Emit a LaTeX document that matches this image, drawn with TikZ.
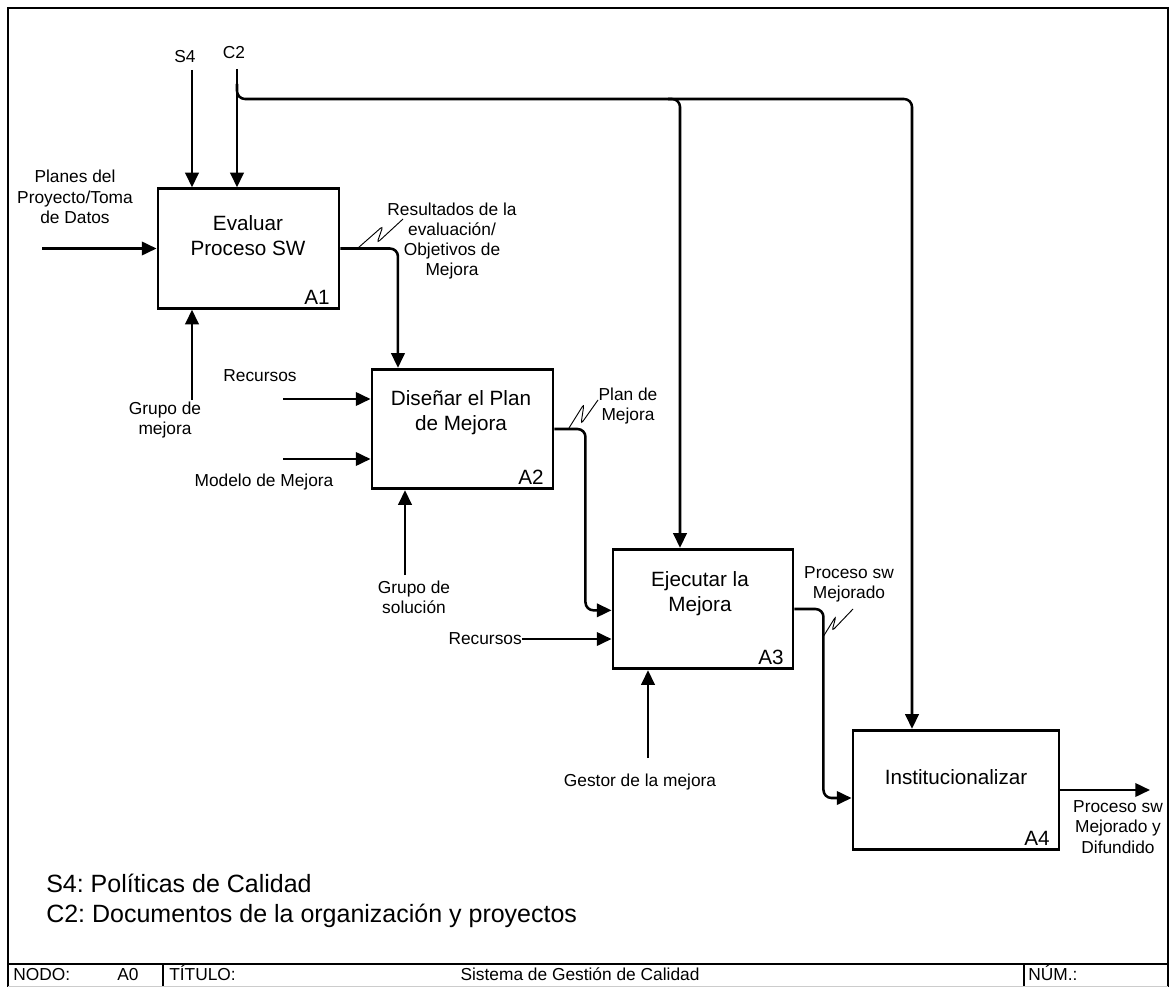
\documentclass[tikz,border=0pt]{standalone}
\usepackage{fontspec}
\setmainfont{Liberation Sans}
\usetikzlibrary{arrows.meta}
\newcommand\lblfont{\fontsize{13}{15.2}\selectfont}
\newcommand\ttlfont{\fontsize{15.5}{18.75}\selectfont}
\newcommand\legfont{\fontsize{18.75}{24.75}\selectfont}
\frenchspacing
\begin{document}
\begin{tikzpicture}[x=0.75pt,y=-0.75pt,
  box/.style={draw,line width=2.2pt,inner sep=0pt,minimum height=89.5pt,minimum width=#1},
  arr/.style={line width=1.9pt,rounded corners=6pt,-{Triangle[length=11pt,width=10pt]}},
  squig/.style={line width=0.7pt,rounded corners=2.5pt},
  lbl/.style={font=\lblfont,align=center,inner sep=0pt},
  ttl/.style={font=\ttlfont,align=center,inner sep=0pt},
  num/.style={font=\ttlfont,inner sep=0pt,anchor=south east},
  leg/.style={font=\legfont,inner sep=0pt,anchor=west},
  foot/.style={font=\lblfont,inner sep=0pt}]
\useasboundingbox (0,0) rectangle (1169,987);

% sheet frame and title strip
\draw[line width=1.5pt] (8,987) -- (8,8) -- (1168,8) -- (1168,987);
\draw[line width=2pt] (8,964) -- (1168,964);
\draw[line width=1.5pt] (163,964) -- (163,987);
\draw[line width=1.5pt] (1024,964) -- (1024,987);
\draw[line width=0.6pt,gray!40] (8,986) -- (1168,986);
\node[foot,anchor=base west] (fnodo) at (13,980.5) {NODO:};
\node[foot,anchor=base] (fa0) at (128,980.5) {A0};
\node[foot,anchor=base west] (ftit) at (169,980.5) {TÍTULO:};
\node[foot,anchor=base] (fsis) at (580,980.5) {Sistema de Gestión de Calidad};
\node[foot,anchor=base west] (fnum) at (1028,980.5) {NÚM.:};

% activity boxes
\node[box=135.75pt] (A1) at (248.5,248.5) {};
\node[box=135.75pt] (A2) at (462.5,429) {};
\node[box=135pt]    (A3) at (703,609) {};
\node[box=154.5pt]  (A4) at (956,790) {};

\node[ttl] (t1) at (248,236) {Evaluar\\Proceso SW};
\node[ttl] (t2) at (461,413) {Diseñar el Plan\\de Mejora};
\node[ttl] (t3) at (700,594) {Ejecutar la\\Mejora};
\node[ttl] (t4) at (956,777) {Institucionalizar};

\node[num] (n1) at ([xshift=-8pt,yshift=4pt]A1.south east) {A1};
\node[num] (n2) at ([xshift=-8pt,yshift=4pt]A2.south east) {A2};
\node[num] (n3) at ([xshift=-8pt,yshift=4pt]A3.south east) {A3};
\node[num] (n4) at ([xshift=-8pt,yshift=4pt]A4.south east) {A4};

% free ends of the boundary arrows
\coordinate (s4) at (192,70);
\coordinate (c2) at (237,69);
\coordinate (c2b) at (237,84);
\coordinate (bus) at (237,99);
\coordinate (j3) at (680,99);
\coordinate (j3a) at (668,99);
\coordinate (j4) at (912,99);
\coordinate (in1) at (42,248.5);
\coordinate (in2) at (283,399);
\coordinate (in3) at (283,459);
\coordinate (in4) at (522,639);
\coordinate (m1) at (192,400);
\coordinate (m2) at (405,575);
\coordinate (m3) at (648,758);
\coordinate (out4) at (1150,790);

% labels of the boundary arrows
\node[lbl] (ls4) at (185,57) {S4};
\node[lbl] (lc2) at (234,53) {C2};
\node[lbl] (lin1) at (75,197) {Planes del\\Proyecto/Toma\\de Datos};
\node[lbl] (lo1) at (452,241) {Resultados de la\\evaluación/\\Objetivos de\\Mejora};
\node[lbl] (lm1) at (165,420) {Grupo de\\mejora};
\node[lbl] (lin2) at (260,376) {Recursos};
\node[lbl] (lin3) at (264,482) {Modelo de Mejora};
\node[lbl] (lo2) at (628,406) {Plan de\\Mejora};
\node[lbl] (lm2) at (414,597) {Grupo de\\solución};
\node[lbl,anchor=east] (lin4) at (in4) {Recursos};
\node[lbl] (lo3) at (849,584) {Proceso sw\\Mejorado};
\node[lbl] (lm3) at (640,782) {Gestor de la mejora};
\node[lbl] (lo4) at (1118,827) {Proceso sw\\Mejorado y\\Difundido};

% controls
\draw[arr] (s4) -- (s4 |- A1.north);
\draw[arr] (c2) -- (c2 |- A1.north);
\draw[arr] (c2b) -- (bus) -- (j4) -- (j4 |- A4.north);
\draw[arr] (j3a) -- (j3) -- (j3 |- A3.north);

% inputs
\draw[arr] (in1) -- (in1 -| A1.west);
\draw[arr] (in2) -- (in2 -| A2.west);
\draw[arr] (in3) -- (in3 -| A2.west);
\draw[arr] (in4) -- (in4 -| A3.west);

% mechanisms
\draw[arr] (m1) -- (m1 |- A1.south);
\draw[arr] (m2) -- (m2 |- A2.south);
\draw[arr] (m3) -- (m3 |- A3.south);

% outputs between activities
\draw[arr] (A1.east) -| ([xshift=-48.4pt]A2.north);
\draw[arr] (A2.east) -- ++(31,0) |- ([yshift=-1pt]A3.west);
\draw[arr] (A3.east) -- ++(29,0) |- ([yshift=-6pt]A4.west);
\draw[arr] (A4.east) -- (out4);

% squiggles tying labels to arrows
\draw[squig] (358,248) -- (383,226) -- (377,243) -- (403,219);
\draw[squig] (569,428) -- (584,404) -- (581,424) -- (598,400);
\draw[squig] (823,637) -- (836,616) -- (832,631) -- (853,609);

% legend
\node[leg] (leg1) at (46,883) {S4: Políticas de Calidad};
\node[leg] (leg2) at (46,916) {C2: Documentos de la organización y proyectos};
\end{tikzpicture}
\end{document}
